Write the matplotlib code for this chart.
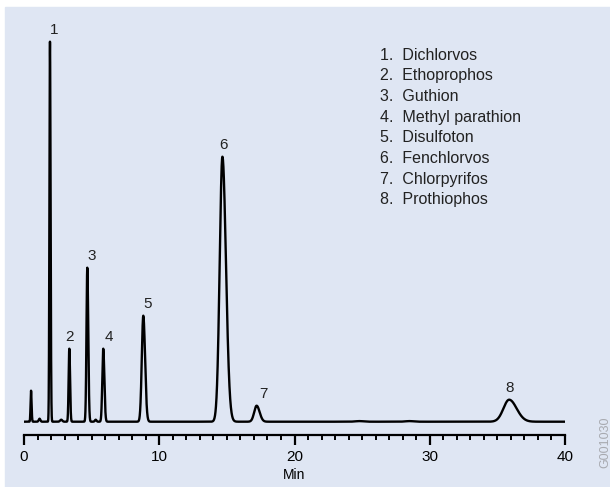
import numpy as np
import matplotlib.pyplot as plt
from matplotlib.patches import Rectangle

plt.rcParams['font.family'] = ['Liberation Sans', 'DejaVu Sans']

# Peaks (retention time in min, height, left/right width)
peak_labels = ['', '', '1', '', '2', '3', '', '4', '5', '6', '7', '', '', '8']
peak_times = [0.52, 1.15, 1.92, 2.75, 3.35, 4.68, 5.3, 5.86, 8.82, 14.67, 17.2, 24.8, 28.5, 35.87]
peak_heights = [31, 3, 380, 2, 73, 154, 2, 73, 106, 265, 16, 0.6, 0.6, 22]
peak_sig_left = [0.035, 0.06, 0.04, 0.08, 0.05, 0.06, 0.06, 0.07, 0.11, 0.2, 0.18, 0.3, 0.3, 0.42]
peak_sig_right = [0.04, 0.06, 0.045, 0.08, 0.055, 0.07, 0.06, 0.08, 0.13, 0.26, 0.22, 0.3, 0.3, 0.55]
label_dx = [0, 0, 3, 0, 0, 3, 0, 4, 3, 1, 5, 0, 0, 0]  # label nudge in points

compounds = ['Dichlorvos', 'Ethoprophos', 'Guthion', 'Methyl parathion',
             'Disulfoton', 'Fenchlorvos', 'Chlorpyrifos', 'Prothiophos']

# build the trace from the peak table
t = np.linspace(0, 40, 8000)
signal = np.zeros_like(t)
for tr, h, sl, sr in zip(peak_times, peak_heights, peak_sig_left, peak_sig_right):
    sig = np.where(t < tr, sl, sr)
    signal += h * np.exp(-0.5 * ((t - tr) / sig) ** 2)

fig = plt.figure(figsize=(6.1, 4.87), dpi=100)
fig.patches.append(Rectangle((5 / 610, 0), 605 / 610, 480 / 487,
                             transform=fig.transFigure, color='#dfe6f3', zorder=-1))

ax = fig.add_axes([24 / 610, 52 / 487, 541 / 610, 428 / 487])
ax.patch.set_visible(False)
ax.plot(t, signal, color='black', lw=1.7, solid_joinstyle='round')

ax.set_xlim(0, 40)
ax.set_ylim(-13.3, 414.7)
for s in ['top', 'left', 'right']:
    ax.spines[s].set_visible(False)
ax.spines['bottom'].set_linewidth(1.6)
ax.set_yticks([])
ax.set_xticks([0, 10, 20, 30, 40])
ax.set_xticks(np.arange(0, 41, 1), minor=True)
ax.tick_params(axis='x', which='major', direction='out', length=7, width=1.6,
               labelsize=11, pad=3.5)
ax.tick_params(axis='x', which='minor', direction='out', length=3.8, width=1.4)
ax.set_xlabel('Min', fontsize=10, labelpad=3)

for lab, tr, h, dx in zip(peak_labels, peak_times, peak_heights, label_dx):
    if lab:
        ax.annotate(lab, (tr, h), xytext=(dx, 3.5), textcoords='offset points',
                    ha='center', va='bottom', fontsize=11, color='#222222')

# compound list
for i, name in enumerate(compounds):
    fig.text(380 / 610, 1 - (55 + i * 20.7) / 487, f'{i + 1}.  {name}',
             fontsize=11.5, va='center', ha='left', color='#222222')

fig.text(605 / 610, 1 - 442 / 487, 'G001030', rotation=90, fontsize=9,
         color='#a8aab0', ha='center', va='center')

fig.savefig('out.png', dpi=100)
